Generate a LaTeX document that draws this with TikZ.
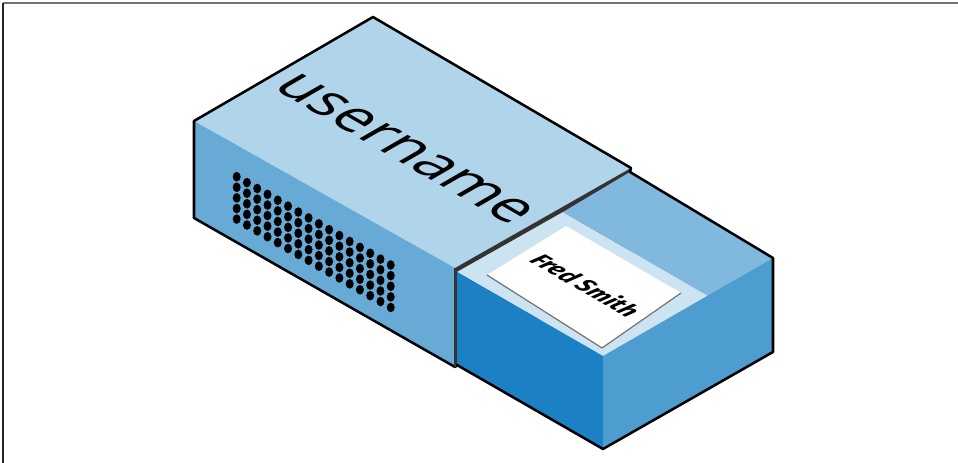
\documentclass[tikz,border=0pt]{standalone}
\usepackage{fontspec}
\setmainfont{Open Sans}
\newfontfamily\handfont{Fira Sans}
\usetikzlibrary{calc}
\definecolor{sleevetop}{HTML}{B0D4EA}
\definecolor{sleeveside}{HTML}{68AAD6}
\definecolor{sleeveend}{HTML}{333333}
\definecolor{drawerfront}{HTML}{1C80C4}
\definecolor{drawerright}{HTML}{4E9DD0}
\definecolor{drawerback}{HTML}{80B8DE}
\definecolor{drawerfloor}{HTML}{CCE4F2}
\def\isotext(#1,#2)#3{\begin{scope}[shift={(#1,#2)}, cm={0.866,-0.5,0.866,0.5,(0,0)}]#3\end{scope}}

\begin{document}
\begin{tikzpicture}[x=0.75pt, y=0.75pt]
			%%%%% START %%%%%
			\useasboundingbox (0, 0) rectangle (958, 463);
			
			% frame
			\draw[line width=1.5pt, color=black!55] (3, 460) -- (958, 460);
			\draw[line width=1.5pt, color=black!85] (3, 460) -- (3, 0);
			
			% sleeve
			\fill[sleevetop] (194, 342) -- (373, 446) -- (631, 295) -- (455, 195) -- cycle;
			\fill[sleeveside] (194, 342) -- (455, 195) -- (455, 96) -- (194, 245) -- cycle;
			\fill[sleeveend] (455, 195) -- (631, 295) -- (631, 196) -- (455, 96) -- cycle;
			
			% holes
			\foreach \i in {0,...,15}
				\foreach \j in {0,...,4}
					\fill[black] ({236.7+10.27*\i}, {286.3-5.89*\i-10.6*\j}) ellipse [x radius=3pt, y radius=3.6pt];
			
			% drawer
			\fill[drawerfloor] (457, 191) -- (563, 251) -- (708, 167) -- (603, 107) -- cycle;
			\fill[drawerback] (563, 251) -- (630, 291) -- (773, 205) -- (708, 167) -- cycle;
			\fill[drawerfront] (457, 191) -- (603, 107) -- (603, 14) -- (457, 98) -- cycle;
			\fill[drawerright] (603, 107) -- (773, 205) -- (773, 111) -- (603, 14) -- cycle;
			
			% card
			\fill[white] (487, 188) -- (566, 237) -- (681, 170) -- (602, 115) -- cycle;
			\draw[color=black!55, line width=0.9pt, line join=round] (487, 188) -- (602, 115) -- (681, 170);
			
			% outline
			\draw[line width=1.9pt, line join=round] (194, 342) -- (373, 446) -- (631, 295) -- (630, 291) -- (773, 205) -- (773, 111) -- (603, 14) -- (457, 98) -- (455, 96) -- (194, 245) -- cycle;
			\draw[line width=1.9pt, color=sleeveend] (455, 195) -- (455, 96);
			
			% labels
			\isotext(405, 314){\node[transform shape, font=\fontsize{44}{48}\selectfont] (username) at (0, 0) {username};}
			\isotext(586, 178){\node[transform shape, font=\handfont\bfseries\itshape\fontsize{18}{20}\selectfont] (fred) at (0, 0) {Fred Smith};}
			
			%%%%% END %%%%%
\end{tikzpicture}
\end{document}
